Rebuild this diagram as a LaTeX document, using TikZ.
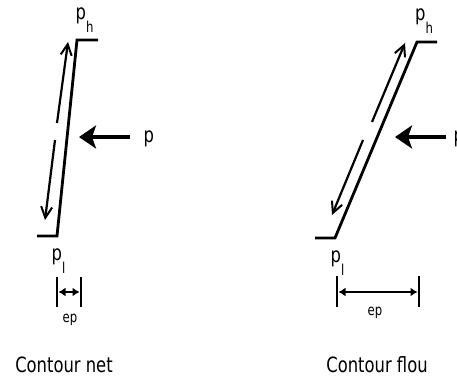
\documentclass[tikz,border=0pt]{standalone}
\usepackage{fontspec}
\newfontfamily\cf[FakeStretch=0.78]{DejaVu Sans}
\usetikzlibrary{arrows.meta}
\begin{document}
\begin{tikzpicture}[x=1pt,y=-1pt,
  edge/.style={line width=2.8pt},
  flow/.style={line width=2.2pt,-{Straight Barb[length=11pt,width=11pt,line width=2pt]}},
  push/.style={line width=3.5pt,-{Stealth[length=17pt,width=23pt,inset=4pt]}},
  dimline/.style={line width=2.2pt,{Latex[length=7pt,width=9pt]}-{Latex[length=7pt,width=9pt]}},
  bar/.style={line width=2.5pt},
  lbl/.style={font=\cf\fontsize{21}{24}\selectfont, inner sep=0pt, anchor=base west},
  small/.style={font=\cf\fontsize{15}{17}\selectfont, inner sep=0pt, anchor=base},
  title/.style={font=\cf\fontsize{21}{24}\selectfont, inner sep=0pt, anchor=base}]
\newcommand{\lowsub}[1]{\raisebox{-13pt}{\fontsize{15}{15}\selectfont #1}}
\useasboundingbox (0,0) rectangle (457,379);
\clip (0,0) rectangle (457,379);

% ---------- left: Contour net ----------
\coordinate (Lb0) at (37,236);
\coordinate (Lb) at (57,236);
\coordinate (Lt) at (77,40);
\coordinate (Lt1) at (98,40);
\draw[edge] (Lb0) -- (Lb) -- (Lt) -- (Lt1);

\node[lbl] (Lph) at (75.5,20) {p\lowsub{h}};
\node[lbl] (Lpl) at (51.5,260) {p\lowsub{l}};

\coordinate (Lu0) at (57,123);
\coordinate (Lu1) at (68,42);
\coordinate (Ld0) at (55,140);
\coordinate (Ld1) at (45,220);
\draw[flow] (Lu0) -- (Lu1);
\draw[flow] (Ld0) -- (Ld1);

\node[lbl] (Lp) at (143.5,143) {p};
\coordinate (La0) at (130,137);
\coordinate (La1) at (79,137);
\draw[push] (La0) -- (La1);

\coordinate (Lbar1a) at (57,277);
\coordinate (Lbar1b) at (57,307);
\coordinate (Lbar2a) at (81,277);
\coordinate (Lbar2b) at (81,307);
\draw[bar] (Lbar1a) -- (Lbar1b);
\draw[bar] (Lbar2a) -- (Lbar2b);
\coordinate (Ldl) at (58.5,292);
\coordinate (Ldr) at (79.5,292);
\draw[dimline] (Ldl) -- (Ldr);
\node[small] (Lep) at (70,322) {ep};

\node[title] (Lname) at (64,372) {Contour net};

% ---------- right: Contour flou ----------
\coordinate (Rb0) at (315,238);
\coordinate (Rb) at (335,238);
\coordinate (Rt) at (417,42);
\coordinate (Rt1) at (437,42);
\draw[edge] (Rb0) -- (Rb) -- (Rt) -- (Rt1);

\node[lbl] (Rph) at (415,21) {p\lowsub{h}};
\node[lbl] (Rpl) at (330.5,262) {p\lowsub{l}};

\coordinate (Ru0) at (372,122);
\coordinate (Ru1) at (405,43);
\coordinate (Rd0) at (363,140);
\coordinate (Rd1) at (332,215);
\draw[flow] (Ru0) -- (Ru1);
\draw[flow] (Rd0) -- (Rd1);

\node[lbl] (Rp) at (453.5,143) {p};
\coordinate (Ra0) at (446,137);
\coordinate (Ra1) at (395,137);
\draw[push] (Ra0) -- (Ra1);

\coordinate (Rbar1a) at (337,276);
\coordinate (Rbar1b) at (337,307);
\coordinate (Rbar2a) at (419,276);
\coordinate (Rbar2b) at (419,307);
\draw[bar] (Rbar1a) -- (Rbar1b);
\draw[bar] (Rbar2a) -- (Rbar2b);
\coordinate (Rdl) at (338.5,292);
\coordinate (Rdr) at (417.5,292);
\draw[dimline] (Rdl) -- (Rdr);
\node[small] (Rep) at (375,315) {ep};

\node[title] (Rname) at (377,372) {Contour flou};
\end{tikzpicture}
\end{document}
